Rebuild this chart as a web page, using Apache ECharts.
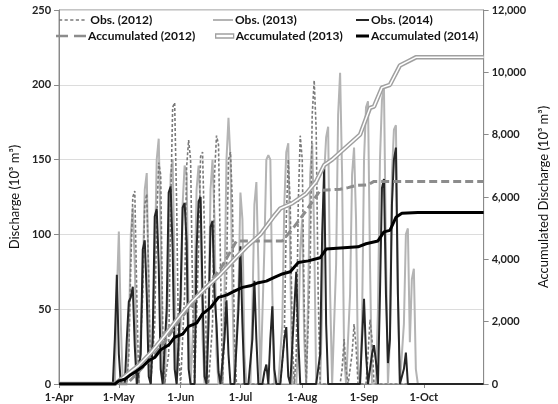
<!DOCTYPE html>
<html>
<head>
<meta charset="utf-8">
<script src="https://cdn.jsdelivr.net/npm/echarts@6/dist/echarts.min.js"></script>
<style>html,body{margin:0;padding:0;background:#fff}#c{width:558px;height:404px}</style>
</head>
<body>
<div id="c"></div>
<script>
// x axis: days counted from 1-Apr (day 0) to 31-Oct (day 213)
const axisEndDay = 213;
const monthTickDays = [0, 30, 61, 91, 122, 153, 183];
const monthTickLabels = ['1-Apr', '1-May', '1-Jun', '1-Jul', '1-Aug', '1-Sep', '1-Oct'];

// daily observed discharge (10^3 m^3); first value is on day obsXXXXStart
const obs2012Start = 34;
const obs2012 = [0,20,80,125,129,60,0, 0,60,120,127,70,0, 0,40,110,148,140,40,0, 0,20,120,185,188,120,20,0,
  0,60,145,163,150,60,0, 0,90,152,155,100,10,0, 0,40,140,166,160,80,0, 0,70,150,155,120,30,0,
  0,0,0,0,0,0,0,0,0,0,0,0,0,0,0,0,0,0,0,0,0,0,0,
  30,110,150,120,30,0, 20,120,166,150,50,0, 0,80,180,203,170,60,0,
  0,0,0,0,0,0,0,0,0,0,10,30,10,0, 0,20,40,25,0,0,0,0,0,20,43,30,0];
const obs2013Start = 28;
const obs2013 = [0,60,102,40,0, 0,0,30,100,118,80,10,0, 0,70,130,141,60,0, 0,80,150,164,100,10,0,
  0,80,140,150,70,0, 0,40,120,146,140,50,0, 0,60,130,146,120,30,0, 0,50,130,150,110,20,0,
  0,0,60,150,178,150,60,0, 0,60,128,110,20,0, 0,0,50,120,135,80,0, 0,90,150,153,150,60,0,
  0,0,0,40,120,155,161,80,0, 0,0,30,90,110,30,0, 60,140,161,100,0,
  0,0,50,140,165,172,60,0, 0,80,180,208,140,20,0, 0,60,140,158,110,10,0,
  40,150,185,189,80,0, 0,0,50,150,190,198,90,0, 30,140,170,173,60,0, 0,40,100,104,28,70,77,10,0];
const obs2014Start = 27;
const obs2014 = [0,30,73,20,0, 0,0,30,55,58,65,25,0, 0,20,90,96,60,5, 0,30,112,117,80,10,0,
  0,50,128,132,90,10,0, 0,60,118,121,95,10,0, 0,0,90,122,125,60,5, 0,40,105,109,60,40,8,0,
  0,30,56,20,0, 0,0,0,50,92,40,0, 0,0,0,30,69,30,0, 0,0,8,13,0,30,52,10,0,
  0,0,0,30,38,5,0, 0,50,75,30,0, 0,0,0,0,0,0,0,0,0,20,100,144,40,0,
  0,0,0,0,0,0,0,0,0,0,0,0,0,0,0, 0,30,57,20,0,10,20,26,15,0,
  60,131,137,60,14,30,120,150,158,60,0, 0,10,21,0];

// accumulated discharge (10^3 m^3), read at the listed days
const acc2012Days = [0,34,40,46,53,61,68,75,82,89,112,118,124,131,141,145,149,155,158,213];
const acc2012 =     [0,0,400,800,1350,2100,2650,3200,3800,4590,4590,5050,5560,6210,6250,6300,6370,6390,6500,6500];
const acc2013Days = [0,28,32,40,46,53,59,66,73,80,88,94,101,108,111,117,124,129,133,137,144,151,156,158,162,166,171,175,179,213];
const acc2013 =     [0,0,200,600,1000,1550,2050,2600,3050,3460,4000,4400,4800,5400,5630,5800,6110,6500,7020,7200,7600,8000,8860,8900,9510,9600,10220,10350,10480,10480];
const acc2014Days = [0,28,30,33,36,39,42,45,48,51,55,58,62,65,69,72,76,80,84,88,92,96,100,104,108,112,116,120,125,131,134,150,154,160,163,166,169,172,180,213];
const acc2014 =     [0,0,100,150,300,420,560,750,850,1100,1250,1500,1600,1850,1950,2250,2450,2780,2850,2980,3100,3150,3250,3300,3420,3530,3600,3900,3950,4050,4330,4400,4500,4590,4880,4930,5350,5480,5500,5500];

function dailyPairs(start, vals) {
  const out = [[0, 0]];
  vals.forEach((v, i) => out.push([start + i, v]));
  out.push([axisEndDay, 0]);
  return out;
}
function pairs(days, vals) { return days.map((d, i) => [d, vals[i]]); }

const font = 'Lato, "Open Sans", sans-serif';
const labelStyle = {fontFamily: font, fontWeight: 'bold', fontSize: 11, color: '#222'};

const shortDash = 'path://M0,0h4v2h-4z M7,0h4v2h-4z M14,0h4v2h-4z M21,0h4v2h-4z M28,0h4v2h-4z';
const longDash = 'path://M0,0h10v2h-10z M15,0h10v2h-10z';

const chart = echarts.init(document.getElementById('c'), null, {renderer: 'canvas'});
function leg(name, left, top, w, h, icon, extra) {
  return Object.assign({
    data: [name], left: left, top: top, itemWidth: w, itemHeight: h, itemGap: 2, icon: icon,
    textStyle: {fontFamily: font, fontWeight: 'bold', fontSize: 12, color: '#111', padding: [0, 0, 0, -3]},
    selectedMode: false, padding: 0
  }, extra || {});
}
chart.setOption({
  animation: false,
  backgroundColor: '#fff',
  grid: {left: 53, right: 58, top: 10, bottom: 20, show: true, borderColor: '#8a8a8a', borderWidth: 1},
  legend: [
    leg('Obs. (2012)', 59, 14, 33, 1.6, shortDash),
    leg('Obs. (2013)', 213, 14, 20, 2, 'rect'),
    leg('Obs. (2014)', 356, 14, 13, 2, 'rect'),
    leg('Accumulated (2012)', 56, 30, 30, 3, longDash),
    leg('Accumulated (2013)', 215, 30, 18, 4, 'rect', {itemStyle: {color: '#fff', borderColor: '#a0a0a0', borderWidth: 1.3}}),
    leg('Accumulated (2014)', 356, 30, 13, 3, 'rect')
  ],
  xAxis: {
    type: 'value', min: 0, max: axisEndDay,
    axisLine: {lineStyle: {color: '#8a8a8a', width: 1}},
    axisTick: {show: true, customValues: monthTickDays, length: 4, lineStyle: {color: '#8a8a8a'}},
    axisLabel: Object.assign({customValues: monthTickDays, margin: 8,
      formatter: v => monthTickLabels[monthTickDays.indexOf(v)] || ''}, labelStyle),
    splitLine: {show: false}
  },
  yAxis: [{
    type: 'value', min: 0, max: 250, interval: 50,
    name: 'Discharge (10³ m³)', nameLocation: 'middle', nameGap: 38,
    nameTextStyle: {fontFamily: font, fontSize: 13, color: '#111'},
    axisLine: {show: true, lineStyle: {color: '#8a8a8a'}},
    axisTick: {show: true, length: 5, lineStyle: {color: '#8a8a8a'}},
    axisLabel: Object.assign({margin: 8}, labelStyle),
    splitLine: {show: true, lineStyle: {color: '#dcdcdc', width: 1}}
  }, {
    type: 'value', min: 0, max: 12000, interval: 2000, position: 'right',
    name: 'Accumulated Discharge (10³ m³)', nameLocation: 'middle', nameGap: 50, nameRotate: 90,
    nameTextStyle: {fontFamily: font, fontSize: 13, color: '#111'},
    axisLine: {show: true, lineStyle: {color: '#8a8a8a'}},
    axisTick: {show: true, length: 5, lineStyle: {color: '#8a8a8a'}},
    axisLabel: Object.assign({margin: 8, formatter: v => v.toLocaleString('en-US')}, labelStyle),
    splitLine: {show: false}
  }],
  series: [
    {name: 'Obs. (2013)', type: 'line', data: dailyPairs(obs2013Start, obs2013), showSymbol: false, symbol: 'none',
      lineStyle: {color: '#b4b4b4', width: 2}, itemStyle: {color: '#b4b4b4'}},
    {name: 'Obs. (2012)', type: 'line', data: dailyPairs(obs2012Start, obs2012), showSymbol: false, symbol: 'none',
      lineStyle: {color: '#7a7a7a', width: 1.6, type: [3, 2]}, itemStyle: {color: '#7a7a7a'}},
    {name: 'Obs. (2014)', type: 'line', data: dailyPairs(obs2014Start, obs2014), showSymbol: false, symbol: 'none',
      lineStyle: {color: '#262626', width: 2}, itemStyle: {color: '#262626'}},
    {name: 'Accumulated (2012)', type: 'line', yAxisIndex: 1, data: pairs(acc2012Days, acc2012), showSymbol: false, symbol: 'none',
      lineStyle: {color: '#8c8c8c', width: 3, type: [8, 4]}, itemStyle: {color: '#8c8c8c'}},
    {name: 'Accumulated (2013)', type: 'line', yAxisIndex: 1, data: pairs(acc2013Days, acc2013), showSymbol: false, symbol: 'none',
      lineStyle: {color: '#a0a0a0', width: 4.5}, itemStyle: {color: '#a0a0a0'}},
    {name: 'acc2013-core', type: 'line', yAxisIndex: 1, data: pairs(acc2013Days, acc2013), showSymbol: false, symbol: 'none',
      lineStyle: {color: '#ffffff', width: 1.5}, itemStyle: {color: '#ffffff'}, silent: true},
    {name: 'Accumulated (2014)', type: 'line', yAxisIndex: 1, data: pairs(acc2014Days, acc2014), showSymbol: false, symbol: 'none',
      lineStyle: {color: '#000000', width: 3}, itemStyle: {color: '#000000'}}
  ]
});
</script>
</body>
</html>
